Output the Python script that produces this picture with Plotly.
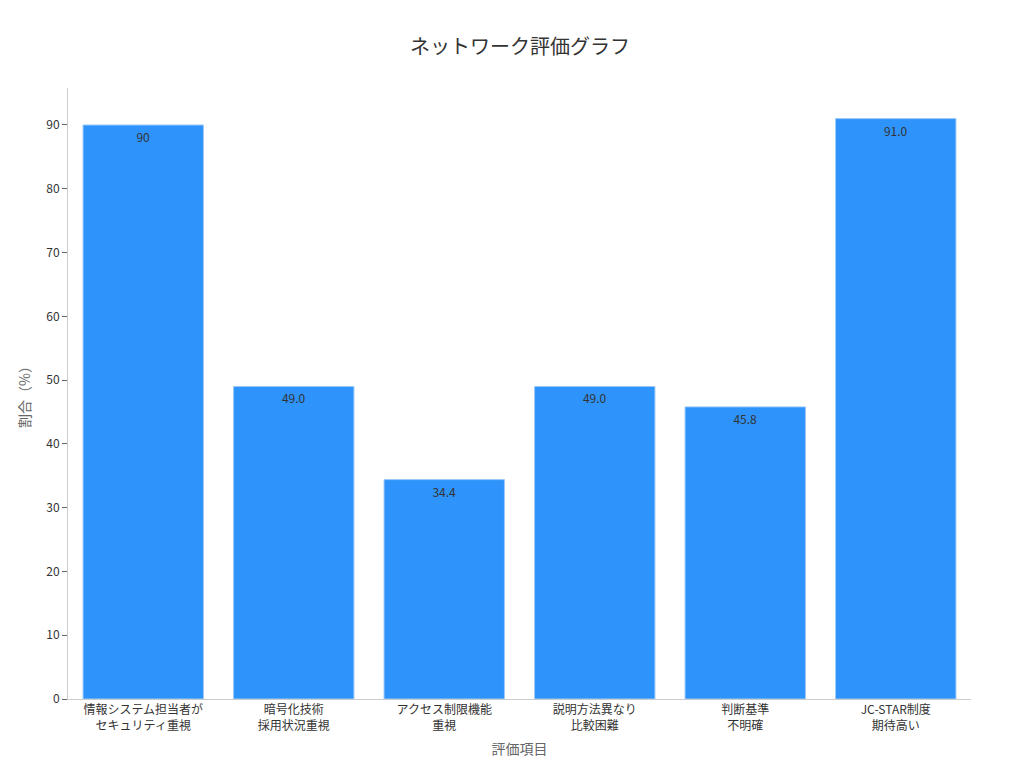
import plotly.graph_objects as go

categories = ["情報システム担当者が<br>セキュリティ重視", "暗号化技術<br>採用状況重視", "アクセス制限機能<br>重視",
              "説明方法異なり<br>比較困難", "判断基準<br>不明確", "JC-STAR制度<br>期待高い"]
values = [90, 49.0, 34.4, 49.0, 45.8, 91.0]
labels = ["90", "49.0", "34.4", "49.0", "45.8", "91.0"]

fig = go.Figure(go.Bar(
    x=categories, y=values, text=labels, textposition="inside", insidetextanchor="end",
    textfont=dict(color="#333333", size=12),
    marker=dict(color="#2e93fa", line=dict(color="#9cc9f7", width=1)),
    width=0.8,
))
fig.update_layout(
    width=1024, height=768,
    font=dict(family="Noto Sans CJK JP, DejaVu Sans", size=12, color="#333333"),
    title=dict(text="ネットワーク評価グラフ", x=0.5, y=0.958, xanchor="center", font=dict(size=20, color="#333333")),
    plot_bgcolor="white", paper_bgcolor="white",
    margin=dict(l=60, r=61, t=80, b=77),
    xaxis=dict(title=dict(text="評価項目", font=dict(size=14, color="#666666"), standoff=12),
               showline=True, linecolor="#cccccc", ticks="", tickfont=dict(size=12)),
    yaxis=dict(title=dict(text="割合（%）", font=dict(size=14, color="#666666"), standoff=12),
               range=[0, 95.8], dtick=10, showgrid=False, showline=True, linecolor="#cccccc",
               ticks="outside", tickcolor="#666666", ticklen=5, zeroline=False),
    showlegend=False,
)
fig.write_html("out.html")
